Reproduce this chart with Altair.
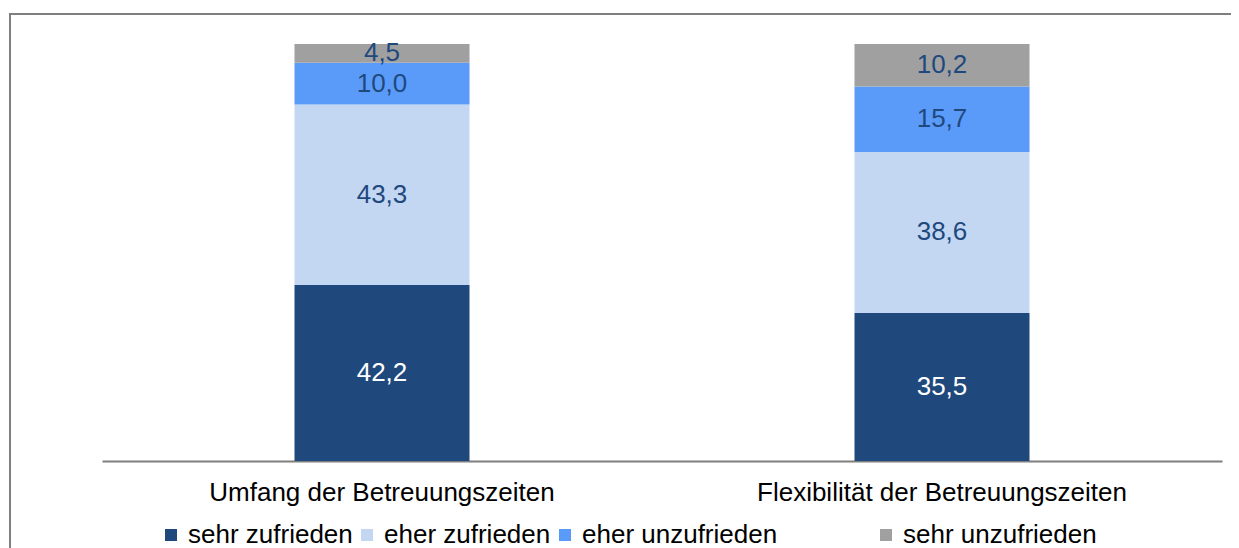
import altair as alt
import pandas as pd

categories = ["Umfang der Betreuungszeiten", "Flexibilität der Betreuungszeiten"]
levels = ["sehr zufrieden", "eher zufrieden", "eher unzufrieden", "sehr unzufrieden"]
colors = ["#1F497D", "#C3D7F3", "#5A9BFA", "#A0A0A0"]
label_colors = ["#FFFFFF", "#1F497D", "#1F497D", "#1F497D"]
umfang = [42.2, 43.3, 10.0, 4.5]
flexibilitaet = [35.5, 38.6, 15.7, 10.2]

rows = []
for cat, vals in zip(categories, [umfang, flexibilitaet]):
    for i, (lev, v) in enumerate(zip(levels, vals)):
        rows.append({"cat": cat, "level": lev, "value": v, "order": i, "lcol": label_colors[i]})
df = pd.DataFrame(rows)

FONT = "Liberation Sans"
FS = 26
PAD = "\u00a0" * 13 + "\u200b"

base = alt.Chart(df).transform_stack(
    stack="value", as_=["y0", "y1"], groupby=["cat"], sort=[alt.SortField("order", order="ascending")]
).transform_calculate(
    mid="(datum.y0 + datum.y1) / 2",
    label="replace(format(datum.value, '.1f'), '.', ',')",
)

xenc = alt.X(
    "cat:N",
    sort=categories,
    scale=alt.Scale(paddingInner=0.6875, paddingOuter=0.34375),
    axis=alt.Axis(
        title=None, labelAngle=0, ticks=False, domainColor="#7F7F7F", domainWidth=2,
        labelFontSize=FS, labelColor="#000000", labelFont=FONT, labelPadding=18,
        labelLimit=0,
    ),
)
yscale = alt.Scale(domain=[0, 100], nice=False, zero=True)

bars = base.mark_bar().encode(
    x=xenc,
    y=alt.Y("y0:Q", scale=yscale, axis=None),
    y2="y1:Q",
    color=alt.Color(
        "level:N",
        scale=alt.Scale(domain=levels, range=colors),
        legend=alt.Legend(
            title=None, orient="none", direction="horizontal", columns=4,
            legendX=56, legendY=478, symbolType="square", symbolSize=144,
            symbolStrokeWidth=0, labelFontSize=FS, labelFont=FONT, labelColor="#000000",
            labelOffset=4, columnPadding=1, padding=0, symbolOpacity=1, labelLimit=0,
            labelExpr="datum.label == 'eher unzufrieden' ? datum.label + '" + PAD + "' : datum.label",
        ),
    ),
)

text = base.mark_text(fontSize=FS, font=FONT, baseline="middle", align="center").encode(
    x=alt.X("cat:N", sort=categories),
    y=alt.Y("mid:Q", scale=yscale),
    text="label:N",
    color=alt.Color("lcol:N", scale=None, legend=None),
)

frame_df = pd.DataFrame({"a": [0]})
frame_top = alt.Chart(frame_df).mark_rule(stroke="#7F7F7F", strokeWidth=2).encode(
    x=alt.value(-93), x2=alt.value(1300), y=alt.value(-30)
)
frame_left = alt.Chart(frame_df).mark_rule(stroke="#7F7F7F", strokeWidth=2).encode(
    x=alt.value(-92), y=alt.value(-31), y2=alt.value(700)
)

chart = alt.layer(frame_top, frame_left, bars, text).properties(
    width=1120,
    height=417,
    autosize=alt.AutoSizeParams(type="none"),
    padding={"left": 94, "top": 36, "right": 9, "bottom": 87},
).configure_view(stroke=None)

chart.save("out.html", embed_options={"renderer": "svg", "actions": False})
